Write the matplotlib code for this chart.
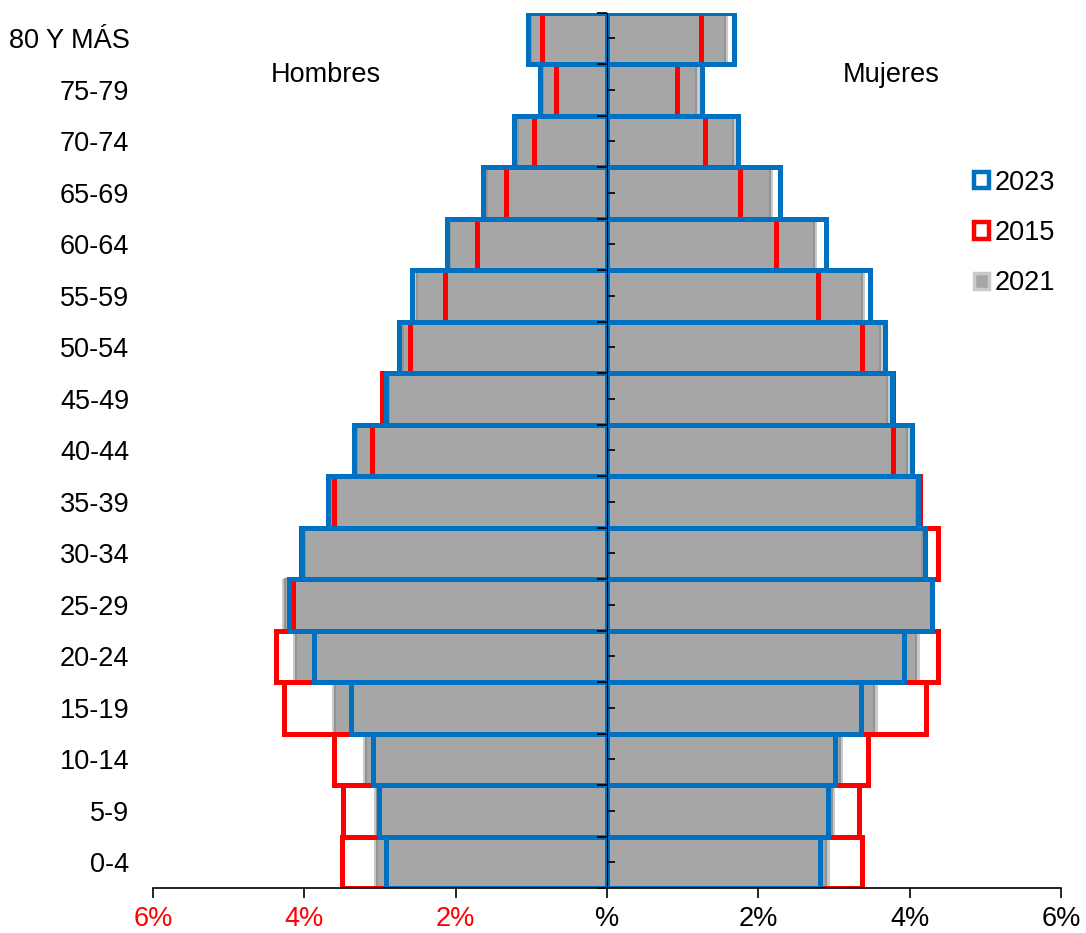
import matplotlib
matplotlib.use("Agg")
import matplotlib.pyplot as plt
from matplotlib.patches import Patch
import numpy as np

plt.rcParams['font.family'] = ['Liberation Sans', 'DejaVu Sans']

ages = ['0-4', '5-9', '10-14', '15-19', '20-24', '25-29', '30-34', '35-39', '40-44',
        '45-49', '50-54', '55-59', '60-64', '65-69', '70-74', '75-79', '80 Y MÁS']

men_2023 = [2.92, 3.01, 3.09, 3.38, 3.87, 4.20, 4.03, 3.69, 3.35, 2.92, 2.75, 2.58, 2.12, 1.64, 1.23, 0.88, 1.04]
men_2015 = [3.50, 3.49, 3.61, 4.27, 4.38, 4.15, 4.05, 3.61, 3.10, 2.98, 2.60, 2.14, 1.72, 1.34, 0.96, 0.68, 0.86]
men_2021 = [3.04, 3.04, 3.18, 3.59, 4.11, 4.25, 3.99, 3.64, 3.30, 2.88, 2.70, 2.51, 2.07, 1.59, 1.17, 0.84, 1.00]

women_2023 = [2.82, 2.92, 3.01, 3.36, 3.92, 4.29, 4.20, 4.11, 4.03, 3.76, 3.67, 3.48, 2.89, 2.29, 1.73, 1.25, 1.68]
women_2015 = [3.37, 3.33, 3.45, 4.22, 4.37, 4.29, 4.37, 4.14, 3.78, 3.78, 3.37, 2.79, 2.23, 1.76, 1.29, 0.925, 1.24]
women_2021 = [2.90, 2.97, 3.08, 3.53, 4.09, 4.28, 4.16, 4.08, 3.96, 3.70, 3.61, 3.37, 2.73, 2.15, 1.66, 1.18, 1.56]

xticks = [-6, -4, -2, 0, 2, 4, 6]
xtick_labels = ['6%', '4%', '2%', '%', '2%', '4%', '6%']
years = ['2023', '2015', '2021']

BLUE = '#0070C0'
RED = '#FF0000'
GRAY = '#A6A6A6'
GRAY_EDGE = '#939393'
SHADOW = '#CACACA'
FS = 19.5

fig = plt.figure(figsize=(10.86, 9.33), dpi=100)
ax = fig.add_axes([153/1086, 1-888/933, (1061-153)/1086, (888-12.5)/933])

y = np.arange(len(ages))
m23 = -np.array(men_2023); m15 = -np.array(men_2015); m21 = -np.array(men_2021)
w23 = np.array(women_2023); w15 = np.array(women_2015); w21 = np.array(women_2021)

# shadow for 2021 bars
ax.barh(y, m21 - 0.045, height=1.0, color=SHADOW, lw=0, zorder=1)
ax.barh(y, w21 + 0.045, height=1.0, color=SHADOW, lw=0, zorder=1)
# 2021 gray bars
ax.barh(y, m21, height=1.0, color=GRAY, edgecolor=GRAY_EDGE, lw=1.5, zorder=2)
ax.barh(y, w21, height=1.0, color=GRAY, edgecolor=GRAY_EDGE, lw=1.5, zorder=2)
# 2015 red outline
ax.barh(y, m15, height=1.0, facecolor='none', edgecolor=RED, lw=3.6, zorder=3)
ax.barh(y, w15, height=1.0, facecolor='none', edgecolor=RED, lw=3.6, zorder=3)
# 2023 blue outline
ax.barh(y, m23, height=1.0, facecolor='none', edgecolor=BLUE, lw=3.6, zorder=4)
ax.barh(y, w23, height=1.0, facecolor='none', edgecolor=BLUE, lw=3.6, zorder=4)

ax.set_xlim(-6, 6)
ax.set_ylim(-0.5, len(ages) - 0.5)

for s in ['top', 'right', 'left']:
    ax.spines[s].set_visible(False)
ax.spines['bottom'].set_linewidth(1.2)
ax.spines['bottom'].set_zorder(6)

ax.set_xticks(xticks)
ax.set_xticklabels(xtick_labels, fontsize=FS)
for lbl, v in zip(ax.get_xticklabels(), xticks):
    lbl.set_color(RED if v < 0 else 'black')
ax.tick_params(axis='x', length=7, width=1.2, direction='out', pad=6)

ax.set_yticks(y)
ax.set_yticklabels(ages, fontsize=FS)
ax.tick_params(axis='y', length=0, pad=17)

# central vertical axis
sec = ax.secondary_yaxis(0.5)
sec.spines['left'].set_linewidth(1.6)
sec.set_yticks(np.arange(-0.5, len(ages), 1.0))
sec.set_yticklabels([])
sec.set_yticks(y, minor=True)
sec.tick_params(axis='y', which='major', direction='in', length=7, width=1.2)
sec.tick_params(axis='y', which='minor', direction='out', length=6, width=1.2)
sec.set_zorder(7)

fig.text(271/1086, 1-75/933, 'Hombres', fontsize=FS, ha='left', va='center')
fig.text(843/1086, 1-75/933, 'Mujeres', fontsize=FS, ha='left', va='center')

handles = [
    Patch(facecolor='white', edgecolor=BLUE, lw=3.2),
    Patch(facecolor='white', edgecolor=RED, lw=3.2),
    Patch(facecolor=GRAY, edgecolor=SHADOW, lw=2.5),
]
fig.legend(handles, years, loc='center left', bbox_to_anchor=(974/1086, 1-233/933),
           bbox_transform=fig.transFigure, frameon=False, fontsize=FS,
           handlelength=0.55, handleheight=0.55, handletextpad=0.2,
           labelspacing=0.9, borderpad=0, borderaxespad=0)

fig.savefig('out.png', dpi=100)
